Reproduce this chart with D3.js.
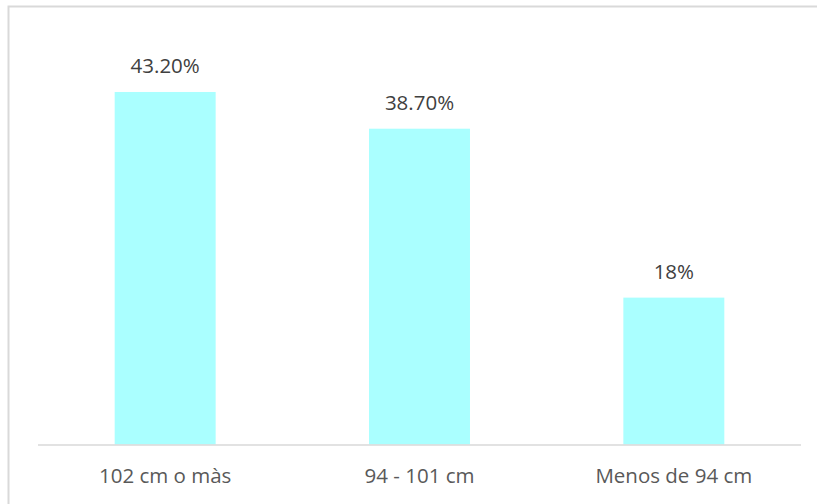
<!DOCTYPE html>
<html>
<head>
<meta charset="utf-8">
<script src="https://cdn.jsdelivr.net/npm/d3@7"></script>
<style>
  html, body { margin: 0; padding: 0; background: #fff; }
  svg { display: block; }
</style>
</head>
<body>
<svg id="chart" width="817" height="504"></svg>
<script>
const categories = ["102 cm o màs", "94 - 101 cm", "Menos de 94 cm"];
const values = [43.2, 38.7, 18];
const valueLabels = ["43.20%", "38.70%", "18%"];

const svg = d3.select("#chart");

// chart frame (cropped at right/bottom)
svg.append("rect")
  .attr("x", 8.5).attr("y", 6.5)
  .attr("width", 830).attr("height", 520)
  .attr("fill", "#fff")
  .attr("stroke", "#d9d9d9")
  .attr("stroke-width", 2);

const x = d3.scaleBand().domain(categories).range([38, 801]).padding(0);
const y = d3.scaleLinear().domain([0, 50]).range([444.5, 36.5]);
const barFrac = 0.397;

const g = svg.append("g");

g.selectAll("rect.bar")
  .data(values)
  .join("rect")
  .attr("class", "bar")
  .attr("x", (d, i) => x(categories[i]) + x.bandwidth() * (1 - barFrac) / 2)
  .attr("width", x.bandwidth() * barFrac)
  .attr("y", d => y(d))
  .attr("height", d => y(0) - y(d))
  .attr("fill", "#AAFFFF");

// baseline
g.append("line")
  .attr("x1", x.range()[0]).attr("x2", x.range()[1])
  .attr("y1", y(0) + 0.5).attr("y2", y(0) + 0.5)
  .attr("stroke", "#d9d9d9").attr("stroke-width", 1.5);

// value labels
g.selectAll("text.val")
  .data(values)
  .join("text")
  .attr("class", "val")
  .attr("x", (d, i) => x(categories[i]) + x.bandwidth() / 2)
  .attr("y", d => y(d) - 19)
  .attr("text-anchor", "middle")
  .attr("font-family", "Open Sans, sans-serif")
  .attr("font-size", 20.5)
  .attr("fill", "#404040")
  .text((d, i) => valueLabels[i]);

// category axis labels
g.selectAll("text.cat")
  .data(categories)
  .join("text")
  .attr("class", "cat")
  .attr("x", d => x(d) + x.bandwidth() / 2)
  .attr("y", 483)
  .attr("text-anchor", "middle")
  .attr("font-family", "Open Sans, sans-serif")
  .attr("font-size", 20.5)
  .attr("fill", "#595959")
  .text(d => d);
</script>
</body>
</html>
